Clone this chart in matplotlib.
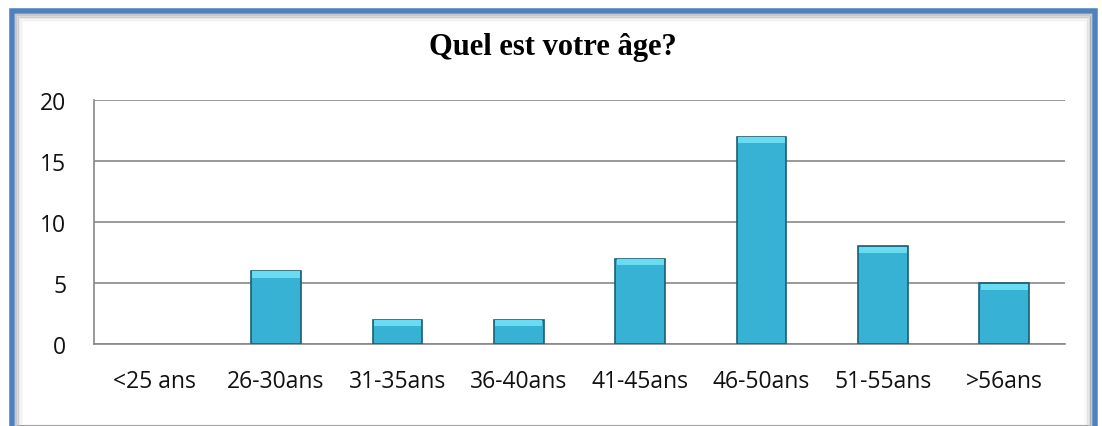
import numpy as np
import matplotlib
matplotlib.use('Agg')
import matplotlib.pyplot as plt
from matplotlib.patches import Rectangle

categories = ['<25 ans', '26-30ans', '31-35ans', '36-40ans', '41-45ans', '46-50ans', '51-55ans', '>56ans']
counts = [0, 6, 2, 2, 7, 17, 8, 5]
y_ticks = [0, 5, 10, 15, 20]
title = 'Quel est votre âge?'

W, H = 1102, 427
fig = plt.figure(figsize=(W / 100, H / 100), dpi=100)
fig.patch.set_facecolor('white')

# frame with soft inner shadow
for i, a in enumerate([0.35, 0.22, 0.12, 0.06, 0.03]):
    off = 4 + i * 1.5
    fig.patches.append(Rectangle(((12 + off) / W, 0), (1083 - 2 * off) / W, (H - 12 - off) / H,
                                 transform=fig.transFigure, fill=False,
                                 edgecolor=(0.4, 0.4, 0.4, a), linewidth=1.5))
fig.patches.append(Rectangle((12 / W, -0.01), 1083 / W, (H - 12) / H + 0.01,
                             transform=fig.transFigure, fill=False,
                             edgecolor='#4f81bd', linewidth=4))

ax = fig.add_axes([94 / W, 1 - 345 / H, (1065 - 94) / W, (345 - 101) / H])
x = np.arange(len(categories))
w = 0.41
has = [c > 0 for c in counts]

# soft shadow under each bar
ax.bar(x, [0.35 if h else 0 for h in has], width=w * 1.1, bottom=-0.35,
       color=(0, 0, 0, 0.12), linewidth=0, zorder=2)
ax.bar(x, counts, width=w, color='#37b2d5',
       edgecolor=['#1c5f73' if h else 'none' for h in has], linewidth=1.2, zorder=3)
ax.bar(x, [0.5 if h else 0 for h in has], width=w * 0.95,
       bottom=[c - 0.55 for c in counts], color='#6adcf2', linewidth=0, zorder=4)

ax.set_xlim(-0.5, len(categories) - 0.5)
ax.set_ylim(0, 20)
ax.set_yticks(y_ticks)
ax.set_xticks(x)
ax.set_xticklabels(categories)
ax.grid(axis='y', color='#888888', linewidth=1.2, zorder=0)
ax.set_axisbelow(True)
for s in ['top', 'right']:
    ax.spines[s].set_visible(False)
for s in ['left', 'bottom']:
    ax.spines[s].set_color('#888888')
    ax.spines[s].set_linewidth(1.2)
ax.tick_params(axis='both', length=0, labelsize=16.5, colors='#111111')
ax.tick_params(axis='x', pad=18)
ax.tick_params(axis='y', pad=20)
for lab in ax.get_xticklabels() + ax.get_yticklabels():
    lab.set_fontfamily('Open Sans')

fig.text(553 / W, 1 - 48 / H, title, ha='center', va='center',
         fontsize=22, fontweight='bold', family='Liberation Serif')

fig.savefig('out.png', dpi=100)
